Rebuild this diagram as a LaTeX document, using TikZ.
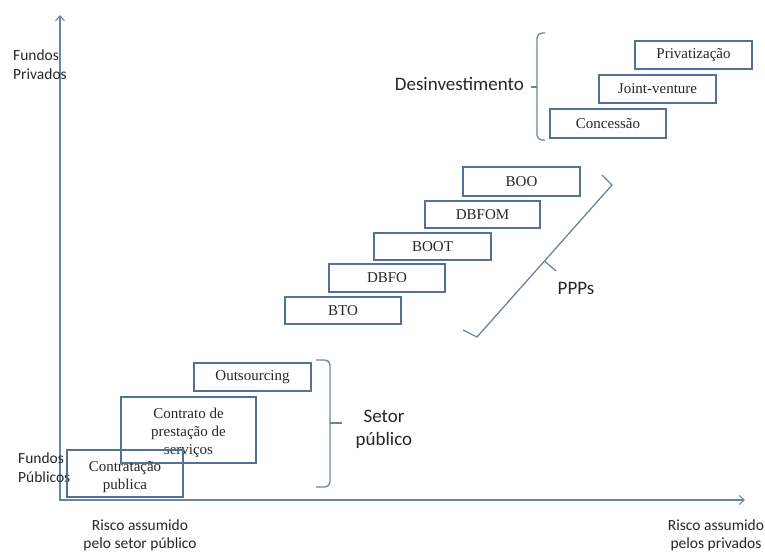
\documentclass[tikz,border=0pt]{standalone}
\usepackage{fontspec}
\setmainfont{Liberation Serif}
\newfontfamily\sansf{Carlito}
\usetikzlibrary{arrows.meta}
\definecolor{boxc}{RGB}{84,112,148}
\definecolor{axisc}{RGB}{104,132,166}
\definecolor{bracec}{RGB}{112,130,156}
\definecolor{txt}{RGB}{38,38,38}
\tikzset{
  box/.style={draw=boxc, line width=1.3pt, outer sep=0pt, inner sep=1pt, anchor=north west,
    align=center, text=txt, font=\fontsize{15}{18}\selectfont},
  lab/.style={text=txt, inner sep=0pt, font=\sansf\fontsize{15.5}{18.5}\selectfont},
  biglab/.style={text=txt, inner sep=0pt, font=\sansf\fontsize{19}{23}\selectfont},
  axisline/.style={draw=axisc, line width=1.1pt},
  bracel/.style={draw=bracec, line width=1.3pt},
}
\begin{document}
\begin{tikzpicture}[x=1pt,y=-1pt]
\useasboundingbox (0,0) rectangle (765,553);
% axes
\coordinate (ytop) at (60,15);
\coordinate (orig) at (60,500);
\coordinate (xend) at (745,500);
\draw[axisline, {Straight Barb[length=5pt,width=9pt]}-{Straight Barb[length=5pt,width=9pt]}] (ytop) -- (orig) -- (xend);
% axis labels
\node[lab, align=left, anchor=north west] (fpriv) at (13,50) {Fundos\\Privados};
\node[lab, align=left, anchor=north west] (fpub) at (18,453) {Fundos\\Públicos};
\node[lab, align=center] (rpub) at (140,535.5) {Risco assumido\\pelo setor público};
\node[lab, align=center] (rpriv) at (716,535.5) {Risco assumido\\pelos privados};
% public sector boxes
\node[box, minimum width=135pt, minimum height=66pt] (cps) at (121,397) {\raisebox{-3pt}[\height][\depth]{\parbox{130pt}{\centering Contrato de\\prestação de\\serviços}}};
\node[box, minimum width=116pt, minimum height=47pt] (cpub) at (67,450) {\raisebox{-3.5pt}[\height][\depth]{\parbox{110pt}{\centering Contratação\\publica}}};
\node[box, minimum width=117pt, minimum height=28pt] (outs) at (194,363) {Outsourcing};
% public sector brace
\draw[bracel, rounded corners=5pt] (316,360) -- (330,360) -- (330,487) -- (316,487);
\coordinate (spm) at (330,423);
\coordinate (spt) at (342,423);
\draw[bracel] (spm) -- (spt);
\node[biglab, align=center] (setor) at (384,429) {Setor\\público};
% PPP boxes
\node[box, minimum width=116pt, minimum height=27pt] (bto) at (285,297) {BTO};
\node[box, minimum width=116pt, minimum height=28pt] (dbfo) at (329,264) {DBFO};
\node[box, minimum width=117pt, minimum height=27pt] (boot) at (374,233) {BOOT};
\node[box, minimum width=115pt, minimum height=27pt] (dbfom) at (425,201) {DBFOM};
\node[box, minimum width=117pt, minimum height=29pt] (boo) at (463,167) {BOO};
% PPP brace
\coordinate (pb1) at (463,330);
\coordinate (pb2) at (477,337);
\coordinate (pt2) at (612,185);
\coordinate (pt1) at (602,175);
\coordinate (pm) at (544.5,261);
\coordinate (pmt) at (556,271);
\draw[bracel] (pb1) -- (pb2) -- (pt2) -- (pt1);
\draw[bracel] (pm) -- (pmt);
\node[biglab] (ppps) at (576,288) {PPPs};
% divestment boxes
\node[box, minimum width=116pt, minimum height=29pt] (conc) at (550,109) {Concessão};
\node[box, minimum width=117pt, minimum height=28pt] (jv) at (599,75) {Joint-venture};
\node[box, minimum width=117pt, minimum height=28pt] (priv) at (635,41) {Privatização};
% divestment brace
\draw[bracel, rounded corners=5pt] (545,33) -- (537,33) -- (537,140) -- (545,140);
\coordinate (dm) at (537,87);
\coordinate (dmt) at (531,87);
\draw[bracel] (dm) -- (dmt);
\node[biglab, anchor=east] (desinv) at (524,84) {Desinvestimento};
\end{tikzpicture}
\end{document}
